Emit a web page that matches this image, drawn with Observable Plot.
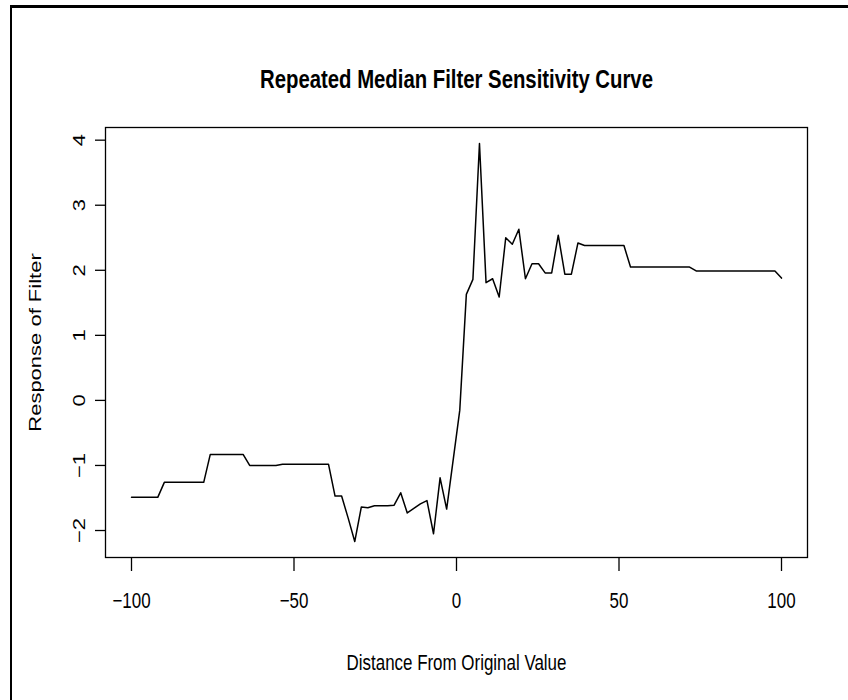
<!DOCTYPE html>
<html>
<head>
<meta charset="utf-8">
<script src="https://cdn.jsdelivr.net/npm/d3@7"></script>
<script src="https://cdn.jsdelivr.net/npm/@observablehq/plot@0.6"></script>
<style>
  html, body { margin: 0; padding: 0; background: #fff; }
  #wrap { position: relative; width: 848px; height: 700px; overflow: hidden; background: #fff; }
  #border { position: absolute; left: 10px; top: 5px; width: 900px; height: 800px;
            border-left: 2px solid #000; border-top: 3px solid #000; box-sizing: border-box; pointer-events: none; }
  #chart { position: absolute; left: 0; top: 0; }
</style>
</head>
<body>
<div id="wrap">
  <div id="chart"></div>
  <div id="border"></div>
</div>
<script>
// Data
const distance = [
  -100, -97.98, -95.96, -93.94, -91.92, -89.9, -87.88, -85.86, -83.84, -81.82,
  -79.8, -77.78, -75.76, -73.74, -71.72, -69.7, -67.68, -65.66, -63.64, -61.62,
  -59.6, -57.58, -55.56, -53.54, -51.52, -49.49, -47.47, -45.45, -43.43, -41.41,
  -39.39, -37.37, -35.35, -33.33, -31.31, -29.29, -27.27, -25.25, -23.23, -21.21,
  -19.19, -17.17, -15.15, -13.13, -11.11, -9.09, -7.07, -5.05, -3.03, -1.01,
  1.01, 3.03, 5.05, 7.07, 9.09, 11.11, 13.13, 15.15, 17.17, 19.19,
  21.21, 23.23, 25.25, 27.27, 29.29, 31.31, 33.33, 35.35, 37.37, 39.39,
  41.41, 43.43, 45.45, 47.47, 49.49, 51.52, 53.54, 55.56, 57.58, 59.6,
  61.62, 63.64, 65.66, 67.68, 69.7, 71.72, 73.74, 75.76, 77.78, 79.8,
  81.82, 83.84, 85.86, 87.88, 89.9, 91.92, 93.94, 95.96, 97.98, 100
];
const response = [
  -1.49, -1.49, -1.49, -1.49, -1.49, -1.26, -1.26, -1.26, -1.26, -1.26,
  -1.26, -1.26, -0.83, -0.83, -0.83, -0.83, -0.83, -0.83, -1.00, -1.00,
  -1.00, -1.00, -1.00, -0.98, -0.98, -0.98, -0.98, -0.98, -0.98, -0.98,
  -0.98, -1.47, -1.47, -1.81, -2.17, -1.64, -1.65, -1.62, -1.62, -1.62,
  -1.61, -1.42, -1.73, -1.66, -1.59, -1.54, -2.05, -1.19, -1.67, -0.91,
  -0.15, 1.63, 1.86, 3.95, 1.81, 1.87, 1.59, 2.50, 2.40, 2.63,
  1.87, 2.10, 2.10, 1.96, 1.96, 2.54, 1.94, 1.94, 2.42, 2.38,
  2.38, 2.38, 2.38, 2.38, 2.38, 2.38, 2.05, 2.05, 2.05, 2.05,
  2.05, 2.05, 2.05, 2.05, 2.05, 2.05, 1.99, 1.99, 1.99, 1.99,
  1.99, 1.99, 1.99, 1.99, 1.99, 1.99, 1.99, 1.99, 1.99, 1.88
];
const xTicks = [-100, -50, 0, 50, 100];
const yTicks = [-2, -1, 0, 1, 2, 3, 4];
const titleText = "Repeated Median Filter Sensitivity Curve";
const xLabel = "Distance From Original Value";
const yLabel = "Response of Filter";

const data = distance.map((d, i) => ({x: d, y: response[i]}));
const fmt = v => (v < 0 ? "\u2212" + Math.abs(v) : String(v));
const font = "'Liberation Sans', Arial, Helvetica, sans-serif";

const chart = Plot.plot({
  width: 848,
  height: 700,
  marginLeft: 105,
  marginRight: 41,
  marginTop: 127,
  marginBottom: 143,
  style: {fontFamily: font, fontSize: "22px", background: "white", color: "black"},
  x: {domain: [-108, 108]},
  y: {domain: [-2.4148, 4.1948]},
  marks: [
    Plot.frame({stroke: "black", strokeWidth: 1.3}),
    Plot.axisX({ticks: xTicks, tickSize: 14, tickFormat: () => "", label: null, strokeWidth: 1.3}),
    Plot.axisY({ticks: yTicks, tickSize: 10, tickFormat: () => "", label: null, strokeWidth: 1.3}),
    Plot.text(xTicks, {x: d => d, frameAnchor: "bottom", dy: 43, text: fmt, lineAnchor: "middle", fontSize: 22}),
    Plot.text(yTicks, {y: d => d, frameAnchor: "left", dx: -26, rotate: -90, text: fmt, textAnchor: "middle", lineAnchor: "middle", fontSize: 22}),
    Plot.line(data, {x: "x", y: "y", stroke: "black", strokeWidth: 1.5}),
    Plot.text([titleText], {frameAnchor: "top", dy: -48, text: d => d, fontWeight: "bold", fontSize: 26.4, textAnchor: "middle", lineAnchor: "middle"}),
    Plot.text([xLabel], {frameAnchor: "bottom", dy: 105, text: d => d, fontSize: 22, textAnchor: "middle", lineAnchor: "middle"}),
    Plot.text([yLabel], {frameAnchor: "left", dx: -70, rotate: -90, text: d => d, fontSize: 22, textAnchor: "middle", lineAnchor: "middle"})
  ]
});
document.getElementById("chart").appendChild(chart);

// The reference picture is horizontally compressed: narrow every text horizontally about its centre.
const squeeze = 0.77;
chart.querySelectorAll("text").forEach(t => {
  if (!t.textContent) return;
  const r = t.getBoundingClientRect();
  const parent = t.parentNode;
  const pt = chart.createSVGPoint();
  pt.x = r.left + r.width / 2;
  pt.y = r.top + r.height / 2;
  const local = pt.matrixTransform(parent.getScreenCTM().inverse());
  const g = document.createElementNS("http://www.w3.org/2000/svg", "g");
  g.setAttribute("transform", `translate(${local.x},0) scale(${squeeze},1) translate(${-local.x},0)`);
  parent.insertBefore(g, t);
  g.appendChild(t);
});
</script>
</body>
</html>
